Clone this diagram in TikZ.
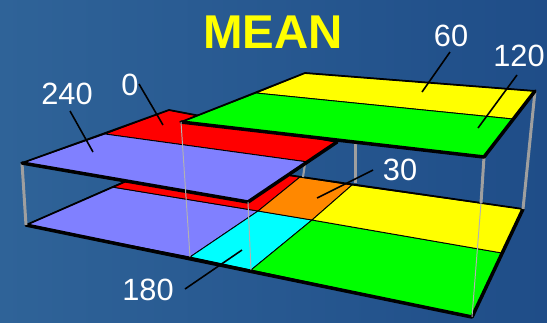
\documentclass[tikz,border=0pt]{standalone}
\usepackage{fontspec}
\setmainfont{Liberation Sans}
\definecolor{bgleft}{RGB}{47,99,152}
\definecolor{bgright}{RGB}{31,77,136}
\definecolor{lav}{RGB}{128,128,255}
\definecolor{orng}{RGB}{255,136,0}
\definecolor{hred}{RGB}{255,0,0}
\definecolor{hgreen}{RGB}{0,255,0}
\definecolor{hyellow}{RGB}{255,255,0}
\definecolor{hcyan}{RGB}{0,255,255}

\begin{document}
\begin{tikzpicture}[x=0.02cm, y=-0.02cm,
  cell/.style={draw=black, line width=0.5pt, line join=round},
  rim/.style={draw=black, line width=1pt, line join=round},
  front/.style={line width=2pt, line cap=round},
  pillar/.style={draw=gray!75, line width=1.7pt},
  hair/.style={draw=gray!60, line width=0.55pt},
  leader/.style={draw=black, line width=0.9pt},
  lbl/.style={text=white, inner sep=0pt, font=\fontsize{17.5}{18}\selectfont}]
  % background
  \shade[left color=bgleft, right color=bgright] (0,0) rectangle (547,322);

  % lower layer
  \coordinate (lo-fl) at (26,225);
  \coordinate (lo-ml) at (112,187);
  \coordinate (lo-bl) at (177,159);
  \coordinate (lo-f1) at (190,257);
  \coordinate (lo-m1) at (258,211);
  \coordinate (lo-b1) at (300,177);
  \coordinate (lo-f2) at (251,270);
  \coordinate (lo-m2) at (312,220);
  \coordinate (lo-b2) at (352,185);
  \coordinate (lo-fr) at (472,317);
  \coordinate (lo-mr) at (502,253);
  \coordinate (lo-br) at (523,209);
  \filldraw[cell, fill=lav] (lo-fl) -- (lo-ml) -- (lo-m1) -- (lo-f1) -- cycle;
  \filldraw[cell, fill=hred] (lo-ml) -- (lo-bl) -- (lo-b1) -- (lo-m1) -- cycle;
  \filldraw[cell, fill=hcyan] (lo-f1) -- (lo-m1) -- (lo-m2) -- (lo-f2) -- cycle;
  \filldraw[cell, fill=orng] (lo-m1) -- (lo-b1) -- (lo-b2) -- (lo-m2) -- cycle;
  \filldraw[cell, fill=hgreen] (lo-f2) -- (lo-m2) -- (lo-mr) -- (lo-fr) -- cycle;
  \filldraw[cell, fill=hyellow] (lo-m2) -- (lo-b2) -- (lo-br) -- (lo-mr) -- cycle;
  \draw[rim] (lo-fl) -- (lo-bl) -- (lo-br);
  \draw[rim, front] (lo-br) -- (lo-fr) -- (lo-fl);

  % upper layer, left slab
  \coordinate (ul-fl) at (22,163);
  \coordinate (ul-ml) at (105,134);
  \coordinate (ul-bl) at (169,110);
  \coordinate (ul-br) at (337,142);
  \coordinate (ul-mr) at (308,162);
  \coordinate (ul-fr) at (248,202);
  % upper layer, right slab
  \coordinate (ur-fl) at (181,122);
  \coordinate (ur-ml) at (256,93);
  \coordinate (ur-bl) at (305,73);
  \coordinate (ur-br) at (535,91);
  \coordinate (ur-mr) at (513,119);
  \coordinate (ur-fr) at (484,157);

  % posts in the gap
  \draw[pillar] (ul-fl) -- (lo-fl);
  \draw[pillar] (355,142) -- (355,183);
  \draw[pillar] (ur-br) -- (lo-br);
  \draw[pillar] (ur-fr) -- (481,203);
  \draw[pillar, line width=1.2pt] (305,164) -- (303,177);

  \filldraw[cell, fill=hred] (ul-ml) -- (ul-bl) -- (ul-br) -- (ul-mr) -- cycle;
  \filldraw[cell, fill=lav] (ul-fl) -- (ul-ml) -- (ul-mr) -- (ul-fr) -- cycle;
  \draw[rim] (ul-fl) -- (ul-bl) -- (ul-br);
  \draw[rim, front] (ul-br) -- (ul-fr) -- (ul-fl);

  \filldraw[cell, fill=hyellow] (ur-ml) -- (ur-bl) -- (ur-br) -- (ur-mr) -- cycle;
  \filldraw[cell, fill=hgreen] (ur-fl) -- (ur-ml) -- (ur-mr) -- (ur-fr) -- cycle;
  \draw[rim] (ur-fl) -- (ur-bl) -- (ur-br);
  \draw[rim, front] (ur-br) -- (ur-fr) -- (ur-fl);

  % thin posts seen through the faces
  \draw[hair] (ur-fl) -- (lo-f1);
  \draw[hair] (ul-fr) -- (lo-f2);
  \draw[hair] (481,203) -- (lo-fr);

  % title and labels
  \node[text=hyellow, inner sep=0pt, font=\bfseries\fontsize{27}{27}\selectfont] (title) at (273,32) {MEAN};
  \node[lbl] (l240) at (67,94) {240};
  \node[lbl] (l0) at (130,85) {0};
  \node[lbl] (l60) at (451,36) {60};
  \node[lbl] (l120) at (519,56) {120};
  \node[lbl] (l30) at (400,170) {30};
  \node[lbl] (l180) at (148,290) {180};

  \coordinate (a240) at (70,111);  \coordinate (b240) at (93,152);
  \coordinate (a0) at (139,84);    \coordinate (b0) at (163,125);
  \coordinate (a60) at (450,52);   \coordinate (b60) at (422,92);
  \coordinate (a120) at (517,75);  \coordinate (b120) at (478,128);
  \coordinate (a30) at (373,170);  \coordinate (b30) at (317,198);
  \coordinate (a180) at (185,289); \coordinate (b180) at (242,250);
  \foreach \k in {240,0,60,120,30,180}
    \draw[leader] (a\k) -- (b\k);
\end{tikzpicture}
\end{document}
